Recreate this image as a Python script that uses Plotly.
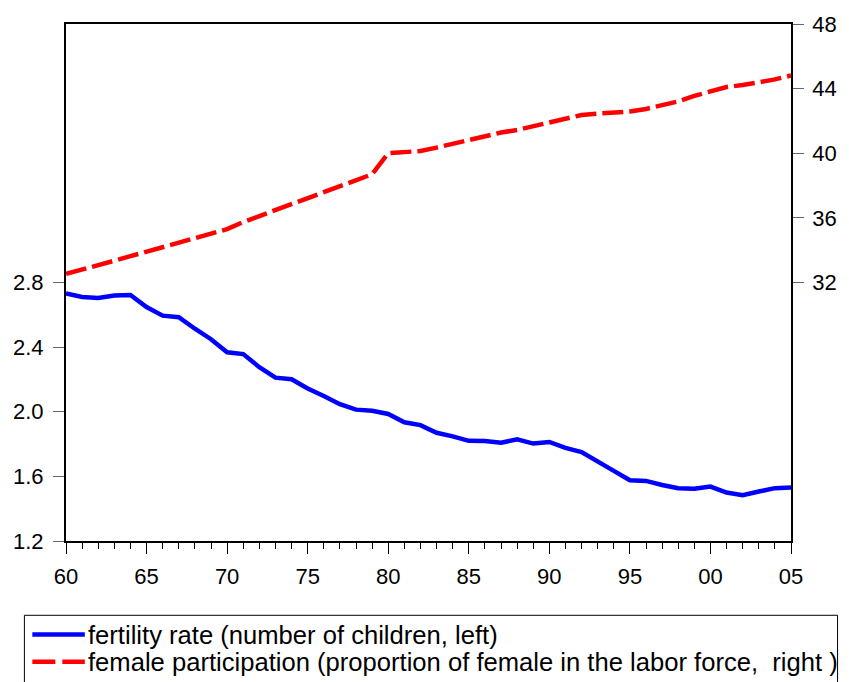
import plotly.graph_objects as go

years = list(range(1960, 2006))
fertility = [2.733, 2.71, 2.704, 2.72, 2.723, 2.648, 2.595, 2.585, 2.514, 2.449,
             2.368, 2.357, 2.276, 2.211, 2.201, 2.144, 2.098, 2.047, 2.013, 2.006,
             1.986, 1.935, 1.917, 1.87, 1.848, 1.82, 1.819, 1.808, 1.829, 1.803,
             1.813, 1.776, 1.75, 1.689, 1.634, 1.576, 1.572, 1.547, 1.527, 1.523,
             1.537, 1.50, 1.484, 1.506, 1.527, 1.531]
female_part = [32.53, 32.78, 33.06, 33.35, 33.63, 33.91, 34.18, 34.46, 34.72, 34.99,
               35.30, 35.74, 36.11, 36.49, 36.85, 37.26, 37.63, 37.97, 38.34, 38.70,
               40.00, 40.04, 40.14, 40.35, 40.59, 40.81, 41.02, 41.28, 41.44, 41.66,
               41.89, 42.11, 42.37, 42.45, 42.51, 42.58, 42.74, 42.94, 43.21, 43.55,
               43.82, 44.10, 44.22, 44.37, 44.57, 44.81]

x_tickvals = [1960, 1965, 1970, 1975, 1980, 1985, 1990, 1995, 2000, 2005]
x_ticktext = ["60", "65", "70", "75", "80", "85", "90", "95", "00", "05"]
left_ticks = [1.2, 1.6, 2.0, 2.4, 2.8]
left_ticktext = ["1.2", "1.6", "2.0", "2.4", "2.8"]
right_ticks = [32, 36, 40, 44, 48]

legend_labels = ["fertility rate (number of children, left)",
                 "female participation (proportion of female in the labor force,  right )"]

W, H = 849, 682
L, R, T, B = 66, 798, 19, 541

fig = go.Figure()
fig.add_trace(go.Scatter(x=years, y=fertility, mode="lines", name=legend_labels[0],
                         line=dict(color="#0000FF", width=4.5), yaxis="y", showlegend=False))
fig.add_trace(go.Scatter(x=years, y=female_part, mode="lines", name=legend_labels[1],
                         line=dict(color="#FF0000", width=4.5, dash="21px,6px"), yaxis="y2",
                         showlegend=False))

def px2paper(px, py):
    return (px - L) / (R - L), (B - py) / (B - T)

shapes = []
annotations = []
# legend box
x0, y0 = px2paper(24, 616)
x1, y1 = px2paper(845, 700)
shapes.append(dict(type="rect", xref="paper", yref="paper", x0=x0, y0=y1, x1=x1, y1=y0,
                   line=dict(color="black", width=1), fillcolor="rgba(0,0,0,0)"))
for i, (lab, col, dash) in enumerate([(legend_labels[0], "#0000FF", "solid"),
                                       (legend_labels[1], "#FF0000", "23px,7px")]):
    py = 635.5 + 27.5 * i
    ax0, ay = px2paper(32, py)
    ax1, _ = px2paper(85, py)
    shapes.append(dict(type="line", xref="paper", yref="paper", x0=ax0, x1=ax1, y0=ay, y1=ay,
                       line=dict(color=col, width=4.5, dash=dash)))
    tx, _ = px2paper(86, py)
    annotations.append(dict(xref="paper", yref="paper", x=tx, y=ay, text=lab,
                            showarrow=False, xanchor="left", yanchor="middle",
                            font=dict(family="Liberation Sans Narrow, Arial Narrow, Liberation Sans, Arial",
                                      size=25.6, color="black")))

fig.update_layout(
    width=W, height=H,
    margin=dict(l=L, r=W - R, t=T, b=H - B, pad=0),
    plot_bgcolor="white", paper_bgcolor="white",
    font=dict(family="Liberation Sans, Arial, sans-serif", size=22, color="black"),
    xaxis=dict(range=[1960, 2005], tickvals=x_tickvals, ticktext=x_ticktext,
               ticks="outside", ticklen=11, tickcolor="black", tickwidth=1,
               ticklabelstandoff=4,
               minor=dict(dtick=1, tick0=1960, ticks="outside", ticklen=6, tickcolor="black"),
               showline=True, linecolor="black", linewidth=1.5, mirror=True,
               showgrid=False, zeroline=False),
    yaxis=dict(range=[1.2, 4.4], tickvals=left_ticks, ticktext=left_ticktext,
               ticks="outside", ticklen=11, tickcolor="#666", ticklabelstandoff=5,
               showline=True, linecolor="black", linewidth=2, showgrid=False, zeroline=False),
    yaxis2=dict(range=[16, 48], tickvals=right_ticks, overlaying="y", side="right",
                ticks="outside", ticklen=11, tickcolor="#666", ticklabelstandoff=4,
                showline=True, linecolor="black", linewidth=1.5, showgrid=False, zeroline=False),
    shapes=shapes, annotations=annotations, showlegend=False,
)

fig.write_html("out.html", config={"displayModeBar": False},
               post_script="document.body.style.margin='0px';")
